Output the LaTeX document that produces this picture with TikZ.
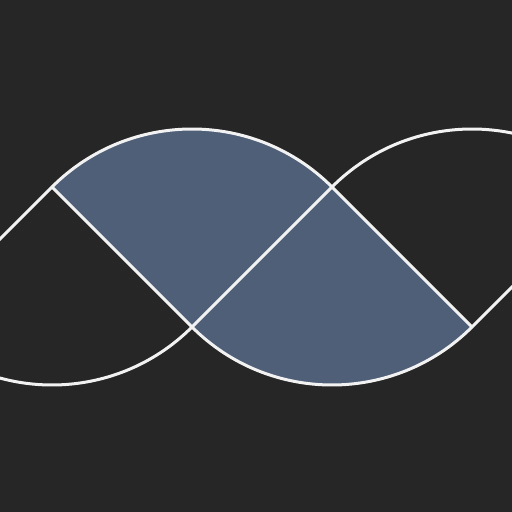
\documentclass[tikz,border=0pt]{standalone}
\usepackage{tikz}
\definecolor{bgdark}{HTML}{262626}
\definecolor{slate}{HTML}{4F5F78}
\definecolor{wire}{HTML}{F2F2F2}

\begin{document}
\begin{tikzpicture}[x=1pt, y=1pt]
			%%%%% START %%%%%
			
			\useasboundingbox (0, 0) rectangle (512, 512);
			\fill[bgdark] (0, 0) rectangle (512, 512);
			\clip (0, 0) rectangle (512, 512);
			
			\coordinate (F) at (-88, 185);
			\coordinate (A) at (52, 325);
			\coordinate (B) at (192, 185);
			\coordinate (C) at (332, 325);
			\coordinate (D) at (472, 185);
			\coordinate (E) at (612, 325);
			
			\fill[slate] (B) -- (A) arc (135:45:198) -- cycle;
			\fill[slate] (C) -- (B) arc (225:315:198) -- cycle;
			
			\draw[line width=3pt, color=wire, line join=round] (F) -- (A) -- (B) -- (C) -- (D) -- (E);
			
			\draw[line width=3pt, color=wire] (A) arc (135:45:198);
			\draw[line width=3pt, color=wire] (C) arc (135:45:198);
			\draw[line width=3pt, color=wire] (F) arc (225:315:198);
			\draw[line width=3pt, color=wire] (B) arc (225:315:198);
			
			%%%%% END %%%%%
\end{tikzpicture}
\end{document}
